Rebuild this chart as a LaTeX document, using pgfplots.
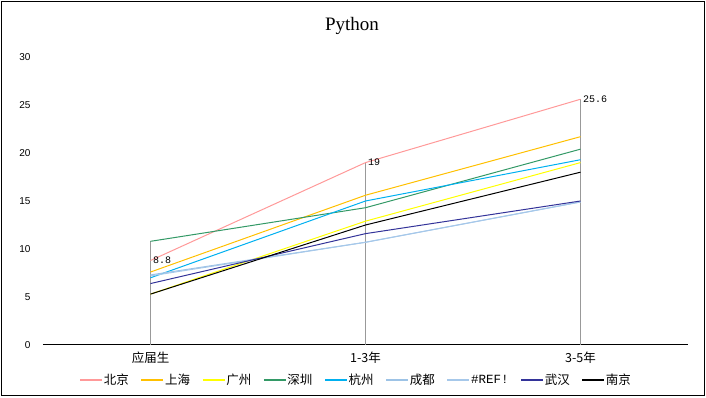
\documentclass[border=0pt]{standalone}
\usepackage{pgfplots}
\pgfplotsset{compat=1.18}
\usepackage{fontspec}
\setmainfont{Liberation Sans}
\newfontfamily\cjk{Noto Sans CJK SC}
\newfontfamily\monof{Liberation Mono}
\newfontfamily\seriff{Liberation Serif}
\definecolor{cBJ}{HTML}{FF9999}
\definecolor{cSH}{HTML}{FFC000}
\definecolor{cGZ}{HTML}{FFFF00}
\definecolor{cSZ}{HTML}{339966}
\definecolor{cHZ}{HTML}{00B0F0}
\definecolor{cCD}{HTML}{9DC3E6}
\definecolor{cREF}{HTML}{A6C8EA}
\definecolor{cWH}{HTML}{333399}
\definecolor{cNJ}{HTML}{000000}
\begin{document}
\begin{tikzpicture}
\useasboundingbox (-43pt,-53pt) rectangle (663pt,345pt);
\draw[line width=1pt] (-41pt,-51pt) rectangle (661pt,343pt);
\begin{axis}[
  at={(0pt,0pt)}, anchor=south west,
  scale only axis, width=645pt, height=288pt,
  xmin=-0.5, xmax=2.5, ymin=0, ymax=30,
  axis x line=bottom, axis y line=left,
  y axis line style={draw=none},
  x axis line style={line width=1pt, -},
  major tick length=0pt,
  xtick={0,1,2},
  xticklabels={应届生,1-3年,3-5年},
  xticklabel style={font=\cjk\fontsize{12.5}{12.5}\selectfont, yshift=-3pt},
  ytick={0,5,...,30},
  yticklabel style={font=\fontsize{10}{10}\selectfont, xshift=-9pt},
  /pgf/number format/assume math mode=true,
  title={Python},
  title style={at={(0.479,1)}, anchor=center, yshift=25pt, font=\seriff\fontsize{19}{19}\selectfont},
  legend style={draw=none, at={(0.485,0)}, anchor=center, yshift=-35pt,
    font=\cjk\fontsize{12.5}{12.5}\selectfont, inner sep=0pt,
    nodes={inner sep=1pt},
    /tikz/every odd column/.append style={column sep=0pt},
    /tikz/every even column/.append style={column sep=11pt}},
  legend columns=-1,
  legend image code/.code={\draw[#1, line width=1.2pt] (0pt,0pt) -- (22pt,0pt);},
  every axis plot/.append style={line width=1pt, mark=none},
]
\addplot[ycomb, color=gray!80, line width=0.8pt, forget plot] coordinates {(0,10.8)(1,19)(2,25.6)};
\addplot[cBJ, nodes near coords, point meta=explicit symbolic,
  every node near coord/.append style={anchor=west, inner sep=2pt, black, font=\monof\fontsize{10}{10}\selectfont}]
  coordinates {(0,8.8)[8.8] (1,19)[19] (2,25.6)[25.6]};
\addlegendentry{北京}
\addplot[cSH] coordinates {(0,7.6)(1,15.6)(2,21.7)};
\addlegendentry{上海}
\addplot[cGZ] coordinates {(0,5.3)(1,12.9)(2,19.0)};
\addlegendentry{广州}
\addplot[cSZ] coordinates {(0,10.8)(1,14.3)(2,20.4)};
\addlegendentry{深圳}
\addplot[cHZ] coordinates {(0,7.0)(1,15.0)(2,19.3)};
\addlegendentry{杭州}
\addplot[cCD] coordinates {(0,7.3)(1,10.7)(2,14.9)};
\addlegendentry{成都}
\addplot[cREF] coordinates {(0,7.2)(1,10.7)(2,14.9)};
\addlegendentry{{\monof\#REF!}}
\addplot[cWH] coordinates {(0,6.4)(1,11.6)(2,15.0)};
\addlegendentry{武汉}
\addplot[cNJ] coordinates {(0,5.3)(1,12.5)(2,18.0)};
\addlegendentry{南京}
\end{axis}
\end{tikzpicture}
\end{document}
